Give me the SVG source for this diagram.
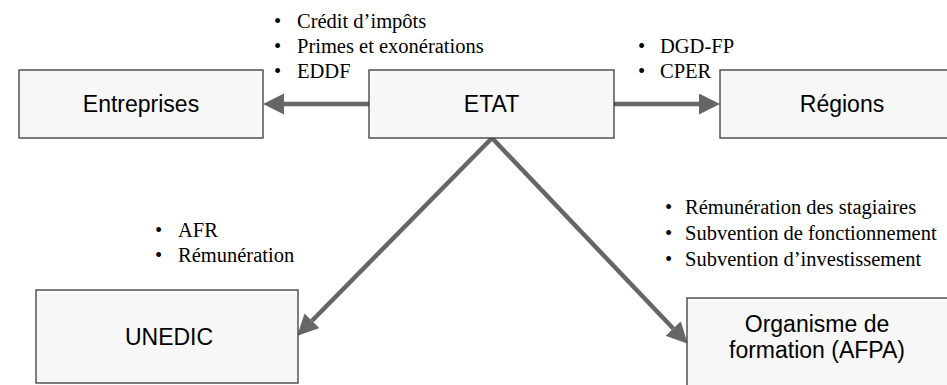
<svg xmlns="http://www.w3.org/2000/svg" width="947" height="385" viewBox="0 0 947 385">
<style>
.box{fill:#f7f7f7;stroke:#3a3a3a;stroke-width:1.3}
.lbl{font-family:"Liberation Sans",Arial,sans-serif;font-size:23px;fill:#000;text-anchor:middle}
.bl{font-family:"Liberation Serif","Times New Roman",serif;font-size:20.5px;fill:#000}
.con{stroke:#666;stroke-width:4.5;fill:none}
</style>
<defs>
<marker id="ah" markerUnits="userSpaceOnUse" markerWidth="22" markerHeight="22" refX="0" refY="10.5" orient="auto">
<path d="M0,0 L21,10.5 L0,21 z" fill="#666"/>
</marker>
</defs>
<rect width="947" height="385" fill="#fff"/>
<g id="connectors">
<line class="con" x1="369" y1="104" x2="284" y2="104" marker-end="url(#ah)"/>
<line class="con" x1="614" y1="104" x2="699" y2="104" marker-end="url(#ah)"/>
<line class="con" x1="492" y1="138" x2="312" y2="320.75" marker-end="url(#ah)"/>
<line class="con" x1="492" y1="138" x2="673.2" y2="328.5" marker-end="url(#ah)"/>
</g>
<g id="entreprises"><rect class="box" x="19" y="70" width="244" height="68"/><text class="lbl" x="141" y="112">Entreprises</text></g>
<g id="etat"><rect class="box" x="369" y="70" width="245" height="68"/><text class="lbl" x="491.5" y="112">ETAT</text></g>
<g id="regions"><rect class="box" x="720" y="70" width="245" height="68"/><text class="lbl" x="842" y="112">Régions</text></g>
<g id="unedic"><rect class="box" x="36" y="290" width="262" height="93"/><text class="lbl" x="169" y="345">UNEDIC</text></g>
<g id="afpa"><rect class="box" x="687" y="298" width="262" height="95"/><text class="lbl" x="817" y="332">Organisme de</text><text class="lbl" x="817" y="358">formation (AFPA)</text></g>
<g id="labels">
<text class="bl" x="274" y="28">•</text><text class="bl" x="297" y="28">Crédit d’impôts</text>
<text class="bl" x="274" y="53">•</text><text class="bl" x="297" y="53">Primes et exonérations</text>
<text class="bl" x="274" y="78">•</text><text class="bl" x="297" y="78">EDDF</text>
<text class="bl" x="638" y="53">•</text><text class="bl" x="660" y="53">DGD-FP</text>
<text class="bl" x="638" y="78">•</text><text class="bl" x="660" y="78">CPER</text>
<text class="bl" x="155" y="237">•</text><text class="bl" x="178" y="237">AFR</text>
<text class="bl" x="155" y="262">•</text><text class="bl" x="178" y="262">Rémunération</text>
<text class="bl" x="665" y="214">•</text><text class="bl" x="685" y="214">Rémunération des stagiaires</text>
<text class="bl" x="665" y="240">•</text><text class="bl" x="685" y="240">Subvention de fonctionnement</text>
<text class="bl" x="665" y="266">•</text><text class="bl" x="685" y="266">Subvention d’investissement</text>
</g>
</svg>
